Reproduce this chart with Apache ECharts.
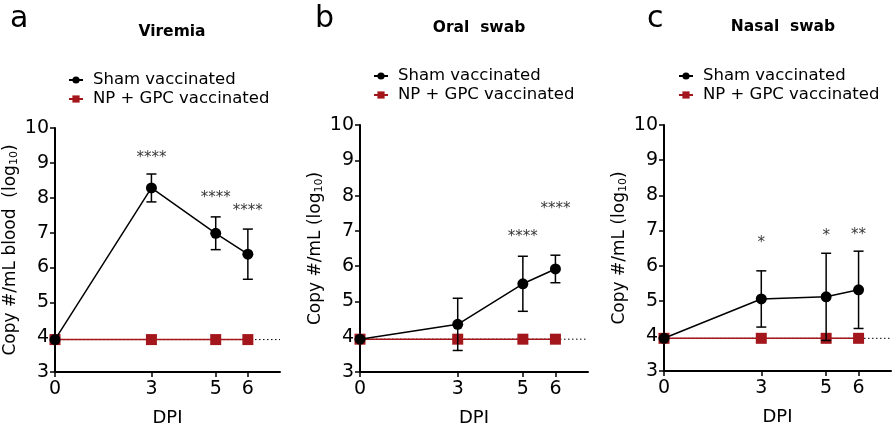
<!DOCTYPE html>
<html><head><meta charset="utf-8">
<script src="https://cdn.jsdelivr.net/npm/echarts@6/dist/echarts.min.js"></script>
<style>html,body{margin:0;padding:0;background:#fff}#c{width:893px;height:426px}</style>
</head><body><div id="c"></div>
<script>
// ---- data ----
const dpi = [0, 3, 5, 6];
const xTickValues = [0, 3, 5, 6];
const lod = 3.93;
const lodX = [0, 7];

const viremiaSham = [3.93, 8.28, 6.98, 6.38];
const viremiaShamSD = [0, 0.40, 0.47, 0.72];
const viremiaVacc = [3.93, 3.93, 3.93, 3.93];
const viremiaStarX = [3, 5, 6];
const viremiaStarY = [9.23, 8.08, 7.70];
const viremiaStarText = ['****', '****', '****'];

const oralSham = [3.93, 4.35, 5.50, 5.92];
const oralShamSD = [0, 0.74, 0.78, 0.39];
const oralVacc = [3.93, 3.93, 3.93, 3.93];
const oralStarX = [5, 6];
const oralStarY = [6.92, 7.70];
const oralStarText = ['****', '****'];

const nasalSham = [3.93, 5.05, 5.11, 5.31];
const nasalShamSD = [0, 0.80, 1.24, 1.10];
const nasalVacc = [3.93, 3.93, 3.93, 3.93];
const nasalStarX = [3, 5, 6];
const nasalStarY = [6.72, 6.91, 6.96];
const nasalStarText = ['*', '*', '**'];

const panelLetters = ['a', 'b', 'c'];
const panelTitles = ['Viremia', 'Oral  swab', 'Nasal  swab'];
const yNames = ['Copy #/mL blood  (log{sub|10})', 'Copy #/mL (log{sub|10})', 'Copy #/mL (log{sub|10})'];
const shamName = 'Sham vaccinated';
const vaccName = 'NP + GPC vaccinated';

// ---- layout ----
const FONT = 'DejaVu Sans';
const RED = '#a3161b';
const grids = [
  {left: 55, top: 128, width: 225, height: 244, containLabel: false, outerBoundsMode: 'none'},
  {left: 360, top: 125, width: 228, height: 247, containLabel: false, outerBoundsMode: 'none'},
  {left: 664, top: 125, width: 227, height: 246, containLabel: false, outerBoundsMode: 'none'}
];
const letterPos = [[5, -1], [310, -1], [642, -1]];
const titleCenter = [[167, 19], [474, 15], [778, 14]];
const legendPos = [[68, 71.5], [373, 67.5], [678, 67.5]];

const panels = [
  {sham: viremiaSham, sd: viremiaShamSD, vacc: viremiaVacc, sx: viremiaStarX, sy: viremiaStarY, st: viremiaStarText},
  {sham: oralSham, sd: oralShamSD, vacc: oralVacc, sx: oralStarX, sy: oralStarY, st: oralStarText},
  {sham: nasalSham, sd: nasalShamSD, vacc: nasalVacc, sx: nasalStarX, sy: nasalStarY, st: nasalStarText}
];

const xAxes = [], yAxes = [], series = [], titles = [], legends = [];
panels.forEach((p, i) => {
  xAxes.push({
    gridIndex: i, type: 'value', min: 0, max: 7,
    name: 'DPI', nameLocation: 'middle', nameGap: 37,
    nameTextStyle: {fontFamily: FONT, fontSize: 18, color: '#000'},
    axisLine: {show: true, onZero: false, lineStyle: {color: '#000', width: 2}},
    axisTick: {show: true, length: 5, customValues: xTickValues, lineStyle: {color: '#000', width: 1.5}},
    axisLabel: {fontFamily: FONT, fontSize: 19, color: '#000', margin: 8, customValues: xTickValues},
    splitLine: {show: false}
  });
  yAxes.push({
    gridIndex: i, type: 'value', min: 3, max: 10, interval: 1,
    name: yNames[i], nameLocation: 'middle', nameGap: 35,
    nameTextStyle: {fontFamily: FONT, fontSize: 17, color: '#000',
      rich: {sub: {fontFamily: FONT, fontSize: 11, color: '#000', padding: [7, 0, 0, 0]}}},
    axisLine: {show: true, onZero: false, lineStyle: {color: '#000', width: 2}},
    axisTick: {show: true, length: 5, lineStyle: {color: '#000', width: 1.5}},
    axisLabel: {fontFamily: FONT, fontSize: 19, color: '#000', margin: 6},
    splitLine: {show: false}
  });
  titles.push({
    text: panelLetters[i], left: letterPos[i][0], top: letterPos[i][1],
    textStyle: {fontFamily: FONT, fontSize: 30, fontWeight: 'normal', color: '#000'}
  });
  titles.push({
    text: panelTitles[i], left: titleCenter[i][0], top: titleCenter[i][1], textAlign: 'center',
    textStyle: {fontFamily: FONT, fontSize: 15.5, fontWeight: 'bold', color: '#000'}
  });
  legends.push({
    orient: 'vertical', left: legendPos[i][0], top: legendPos[i][1], padding: 0,
    itemWidth: 14, itemHeight: 9, itemGap: 2,
    data: [shamName, vaccName],
    textStyle: {fontFamily: FONT, fontSize: 16.5, color: '#000', padding: [0, 0, 0, 5], lineHeight: 17}
  });
  // detection-limit dotted line
  series.push({
    type: 'line', xAxisIndex: i, yAxisIndex: i, silent: true, z: 1,
    data: lodX.map(x => [x, lod]), symbol: 'none',
    lineStyle: {color: '#000', width: 1, type: [1.5, 2.5]}
  });
  // vaccinated
  series.push({
    name: vaccName, type: 'line', xAxisIndex: i, yAxisIndex: i, z: 2,
    data: dpi.map((x, k) => [x, p.vacc[k]]),
    symbol: 'rect', symbolSize: 11, itemStyle: {color: RED},
    lineStyle: {color: RED, width: 1.5}
  });
  // error bars
  series.push({
    type: 'custom', xAxisIndex: i, yAxisIndex: i, z: 3, silent: true,
    data: dpi.map((x, k) => [x, p.sham[k] - p.sd[k], p.sham[k] + p.sd[k]]),
    renderItem: (params, api) => {
      const lo = api.coord([api.value(0), api.value(1)]);
      const hi = api.coord([api.value(0), api.value(2)]);
      const hw = 5;
      const st = {stroke: '#000', lineWidth: 1.5};
      return {type: 'group', children: [
        {type: 'line', shape: {x1: hi[0], y1: hi[1], x2: lo[0], y2: lo[1]}, style: st},
        {type: 'line', shape: {x1: hi[0] - hw, y1: hi[1], x2: hi[0] + hw, y2: hi[1]}, style: st},
        {type: 'line', shape: {x1: lo[0] - hw, y1: lo[1], x2: lo[0] + hw, y2: lo[1]}, style: st}
      ]};
    }
  });
  // sham
  series.push({
    name: shamName, type: 'line', xAxisIndex: i, yAxisIndex: i, z: 4,
    data: dpi.map((x, k) => [x, p.sham[k]]),
    symbol: 'circle', symbolSize: 11, itemStyle: {color: '#000'},
    lineStyle: {color: '#000', width: 1.5}
  });
  // significance stars
  series.push({
    type: 'scatter', xAxisIndex: i, yAxisIndex: i, z: 5, silent: true,
    symbolSize: 0,
    data: p.sx.map((x, k) => [x, p.sy[k], p.st[k]]),
    label: {show: true, position: 'inside', formatter: q => q.value[2],
      fontFamily: FONT, fontSize: 15, color: '#000', offset: [0, 3]}
  });
});

const chart = echarts.init(document.getElementById('c'), null, {renderer: 'canvas'});
chart.setOption({
  animation: false,
  backgroundColor: '#fff',
  title: titles,
  legend: legends,
  grid: grids,
  xAxis: xAxes,
  yAxis: yAxes,
  series: series
});
</script></body></html>
